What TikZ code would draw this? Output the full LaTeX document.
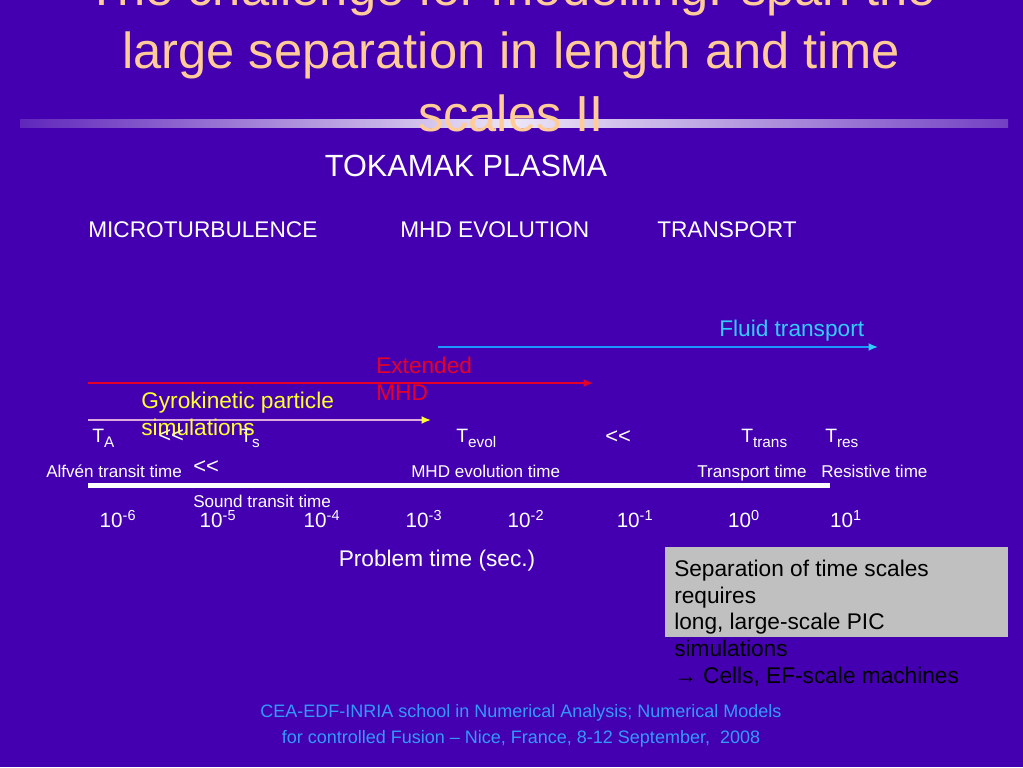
\documentclass[tikz,border=0pt]{standalone}
\usepackage{fontspec}
\setmainfont{Liberation Sans}
\usetikzlibrary{arrows.meta,positioning}

\definecolor{slidebg}{RGB}{68,0,176}
\definecolor{peach}{RGB}{255,204,153}
\definecolor{fluidcyan}{RGB}{51,204,255}
\definecolor{fluidblue}{RGB}{30,150,255}
\definecolor{mhdred}{RGB}{230,0,40}
\definecolor{gyroyellow}{RGB}{255,255,51}
\definecolor{gyroline}{RGB}{220,170,220}
\definecolor{boxgray}{RGB}{192,192,192}
\definecolor{footblue}{RGB}{51,153,255}

\newcommand{\fs}[2]{\fontsize{#1}{#2}\selectfont}
\newcommand{\muchless}{{<}{<}}
\newcommand{\lowsub}[1]{\raisebox{-3.8pt}{\fs{11.5}{12}#1}}

\begin{document}
\begin{tikzpicture}
    [x=0.75pt,y=-0.75pt,
     txt/.style={inner sep=0,text=white,anchor=base west},
     title/.style={inner sep=0,text=peach,align=center,font=\fs{38}{47}},
     head/.style={txt,font=\fs{17}{20}},
     timesym/.style={txt,font=\fs{14.5}{17}},
     less/.style={txt,font=\fs{16.5}{17}},
     small/.style={txt,font=\fs{12.8}{15}},
     tick/.style={txt,anchor=base,font=\fs{15.5}{18}},
     spanarrow/.style={line width=1.5pt,-{Latex[length=7pt,width=6pt]}}]

    \useasboundingbox (0,0) rectangle (1023,767);
    \clip (0,0) rectangle (1023,767);
    \fill[slidebg] (0,0) rectangle (1023,767);

    % separator under the title
    \shade[left color=slidebg!85!white,right color=slidebg!75!white,middle color=white!90!slidebg]
        (20,119) rectangle (1008,127);

    \node[title,anchor=base] (title) at (511,131)
        {The challenge for modelling: span the\\large separation in length and time\\scales II};

    \node[txt,anchor=base,font=\fs{23}{27}] (tokamak) at (466,176) {TOKAMAK PLASMA};
    \node[head] (micro) at (88,237) {MICROTURBULENCE};
    \node[head] (mhdevo) at (400,237) {MHD EVOLUTION};
    \node[head] (transport) at (657,237) {TRANSPORT};

    % model ranges
    \coordinate (fluidA) at (438,347);
    \coordinate (fluidB) at (878,347);
    \draw[spanarrow,fluidblue,-{Latex[length=7pt,width=6pt,color=fluidcyan]}] (fluidA) -- (fluidB);
    \node[head,text=fluidcyan] (fluid) at (719,336) {Fluid transport};

    \coordinate (mhdA) at (88,383);
    \coordinate (mhdB) at (593,383);
    \draw[spanarrow,mhdred] (mhdA) -- (mhdB);
    \node[head,text=mhdred,align=left] (extmhd) at (376,400) {Extended\\MHD};

    \coordinate (gyroA) at (88,420);
    \coordinate (gyroB) at (431,420);
    \draw[spanarrow,gyroline,-{Latex[length=7pt,width=6pt,color=gyroyellow]}] (gyroA) -- (gyroB);

    % characteristic times
    \node[timesym] (tauA) at (92,442) {T\lowsub{A}};
    \node[less] (ll1) at (158,442) {\muchless};
    \node[timesym] (tauS) at (240,442) {T\lowsub{s}};
    \node[timesym] (tauevol) at (456,442) {T\lowsub{evol}};
    \node[less] (ll2) at (605,443) {\muchless};
    \node[timesym] (tautrans) at (741,442) {T\lowsub{trans}};
    \node[timesym] (taures) at (825,442) {T\lowsub{res}};

    \node[head,text=gyroyellow,align=left] (gyro) at (141,435) {Gyrokinetic particle\\simulations};

    \node[small] (alfven) at (46,477) {Alfvén transit time};
    \node[less] (ll3) at (193,473) {\muchless};
    \node[small] (evoltime) at (411,477) {MHD evolution time};
    \node[small] (transtime) at (697,477) {Transport time};
    \node[small] (restime) at (821,477) {Resistive time};

    % time axis
    \fill[white] (88,483) rectangle (830,488);
    \node[small] (sound) at (193,507) {Sound transit time};

    \foreach \i/\e/\x in {1/-6/118,2/-5/218,3/-4/322,4/-3/424,5/-2/526,6/-1/635,7/0/744,8/1/846}
        \node[tick] (tick\i) at (\x,527) {10\textsuperscript{\e}};

    \node[head,anchor=base] (axislabel) at (437,566) {Problem time (sec.)};

    % note box, text runs out of it
    \fill[boxgray] (665,547) rectangle (1008,637);
    \node[head,text=black,align=left] (note) at (674,683)
        {Separation of time scales\\requires\\long, large-scale PIC\\simulations\\→ Cells, EF-scale machines};

    \node[txt,anchor=base,text=footblue,align=center,font=\fs{13.5}{19}] (footer) at (521,743)
        {CEA-EDF-INRIA school in Numerical Analysis; Numerical Models\\for controlled Fusion -- Nice, France, 8-12 September,~ 2008};

\end{tikzpicture}
\end{document}
